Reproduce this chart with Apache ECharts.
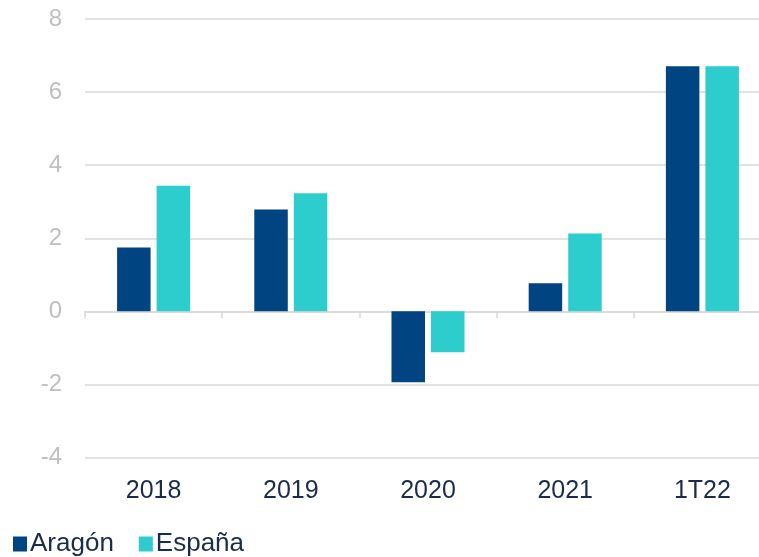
<!DOCTYPE html>
<html>
<head>
<meta charset="utf-8">
<script src="https://cdn.jsdelivr.net/npm/echarts@6/dist/echarts.min.js"></script>
<style>
html,body{margin:0;padding:0;background:#fff;}
#chart{width:759px;height:557px;}
</style>
</head>
<body>
<div id="chart"></div>
<script>
const categories = ['2018', '2019', '2020', '2021', '1T22'];
const aragon = [1.75, 2.79, -1.94, 0.77, 6.71];
const espana = [3.44, 3.23, -1.12, 2.13, 6.71];
const seriesNames = ['Aragón', 'España'];
const yTicks = { min: -4, max: 8, interval: 2 };

const chart = echarts.init(document.getElementById('chart'), null, { renderer: 'canvas' });
const font = '"Liberation Sans", Arial, sans-serif';
chart.setOption({
  animation: false,
  textStyle: { fontFamily: font },
  grid: { left: 85, width: 686, top: 19, height: 438.5, containLabel: false, outerBoundsMode: 'none' },
  legend: {
    left: 8, top: 526,
    itemWidth: 14, itemHeight: 15, itemGap: 25,
    icon: 'rect',
    textStyle: { fontFamily: font, fontSize: 26, color: '#1a2b4c', padding: [0, 0, 0, -2] },
    data: seriesNames
  },
  xAxis: [
    {
      type: 'category', data: categories,
      axisLine: { show: false, onZero: false },
      axisTick: { show: false },
      axisLabel: { fontFamily: font, fontSize: 25, color: '#1a2b4c', margin: 21 }
    },
    {
      type: 'category', data: categories, position: 'bottom',
      axisLine: { show: true, onZero: true, lineStyle: { color: '#d9d9d9', width: 1.5 } },
      axisTick: { show: true, length: 7, lineStyle: { color: '#d9d9d9', width: 1.5 } },
      axisLabel: { show: false }
    }
  ],
  yAxis: {
    type: 'value', min: yTicks.min, max: yTicks.max, interval: yTicks.interval,
    axisLine: { show: false }, axisTick: { show: false },
    axisLabel: { fontFamily: font, fontSize: 24, color: '#bfbfbf', margin: 23 },
    splitLine: { lineStyle: { color: '#d9d9d9', width: 1.5 } }
  },
  series: [
    { name: seriesNames[0], type: 'bar', data: aragon, xAxisIndex: 0,
      barWidth: 33.5, barGap: '18%', itemStyle: { color: '#004481' } },
    { name: seriesNames[1], type: 'bar', data: espana, xAxisIndex: 0,
      barWidth: 33.5, barGap: '18%', itemStyle: { color: '#2dcccd' } }
  ]
});
</script>
</body>
</html>
